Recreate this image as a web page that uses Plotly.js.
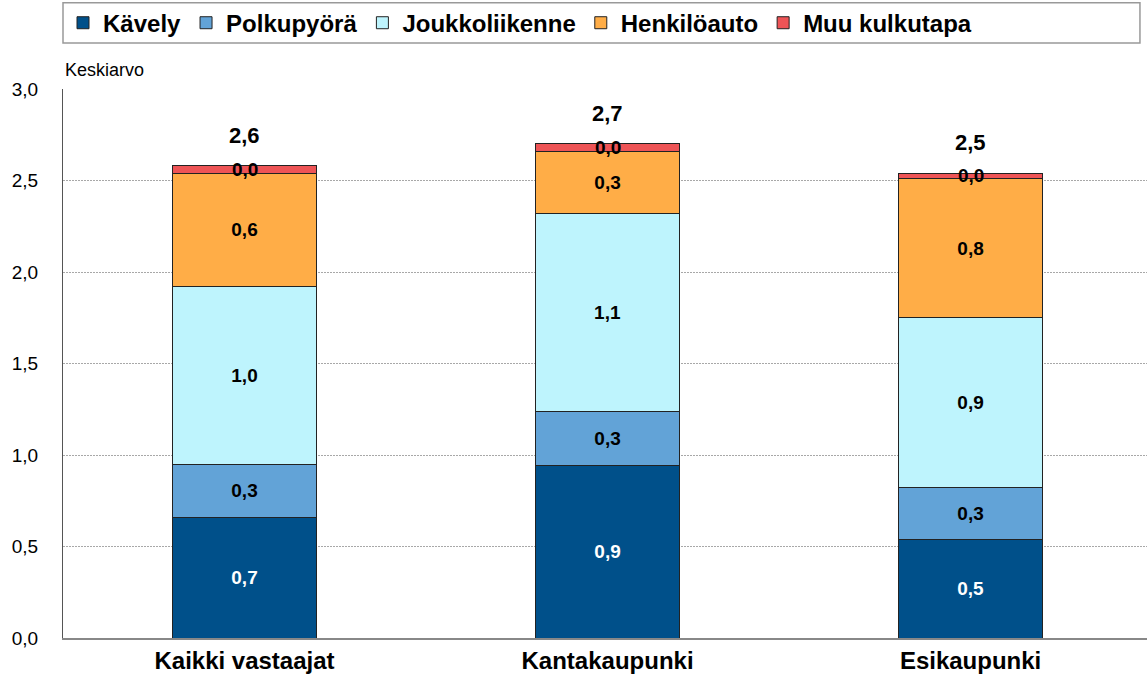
<!DOCTYPE html>
<html>
<head>
<meta charset="utf-8">
<script src="https://cdn.plot.ly/plotly-3.0.1.min.js"></script>
<style>html,body{margin:0;padding:0;background:#fff;}#chart{width:1147px;height:684px;}</style>
</head>
<body>
<div id="chart"></div>
<script>
const categories = ["Kaikki vastaajat", "Kantakaupunki", "Esikaupunki"];
const seriesNames = ["Kävely", "Polkupyörä", "Joukkoliikenne", "Henkilöauto", "Muu kulkutapa"];
const kavely = [0.66, 0.94, 0.54];
const polkupyora = [0.29, 0.30, 0.28];
const joukkoliikenne = [0.97, 1.08, 0.93];
const henkiloauto = [0.62, 0.34, 0.76];
const muu = [0.04, 0.04, 0.03];
const yTicks = [0, 0.5, 1, 1.5, 2, 2.5, 3];

const colors = ["#00508A", "#62A3D7", "#BEF4FD", "#FFAD47", "#EE5456"];
const textColors = ["#ffffff", "#000000", "#000000", "#000000", "#000000"];
const series = [kavely, polkupyora, joukkoliikenne, henkiloauto, muu];
const fmt = v => v.toFixed(1).replace('.', ',');
const FONT = "Liberation Sans, Arial, sans-serif";

const traces = series.map((vals, i) => ({
  type: 'bar',
  name: seriesNames[i],
  x: categories,
  y: vals,
  text: i < 4 ? vals.map(fmt) : vals.map(() => ''),
  textposition: i < 4 ? 'inside' : 'none',
  insidetextanchor: 'middle',
  textangle: 0,
  constraintext: 'none',
  textfont: {family: FONT, size: 19, color: textColors[i], weight: 'bold'},
  marker: {color: colors[i], line: {color: '#222222', width: 1}},
  hoverinfo: 'skip'
}));

const annotations = [];
annotations.push({
  xref: 'paper', yref: 'paper', x: 0, y: 1.034, xanchor: 'left', yanchor: 'middle',
  text: 'Keskiarvo', showarrow: false, font: {family: FONT, size: 18, color: '#000'}
});
categories.forEach((c, j) => {
  const below = kavely[j] + polkupyora[j] + joukkoliikenne[j] + henkiloauto[j];
  const total = below + muu[j];
  annotations.push({
    x: c, y: below + muu[j] / 2, xref: 'x', yref: 'y', text: fmt(muu[j]), showarrow: false,
    xanchor: 'center', yanchor: 'middle',
    font: {family: FONT, size: 19, color: '#000', weight: 'bold'}
  });
  annotations.push({
    x: c, y: total, xref: 'x', yref: 'y', text: fmt(total), showarrow: false,
    xanchor: 'center', yanchor: 'bottom', yshift: 16,
    font: {family: FONT, size: 22, color: '#000', weight: 'bold'}
  });
});

const layout = {
  width: 1147, height: 684,
  margin: {l: 63, r: 0, t: 89, b: 46, pad: 0},
  paper_bgcolor: '#ffffff', plot_bgcolor: '#ffffff',
  separators: ', ',
  barmode: 'stack',
  bargap: 0.603,
  showlegend: true,
  legend: {
    orientation: 'h', x: 0.0, xanchor: 'left', y: 1.12, yanchor: 'middle',
    font: {family: FONT, size: 24, color: '#000', weight: 'bold'},
    bgcolor: 'rgba(0,0,0,0)', borderwidth: 0, traceorder: 'normal', itemclick: false
  },
  xaxis: {
    range: [-0.5, 2.486], showgrid: false, zeroline: false,
    showline: true, linecolor: '#888888', linewidth: 2,
    ticks: '', tickfont: {family: FONT, size: 24, color: '#000', weight: 'bold'},
    fixedrange: true
  },
  yaxis: {
    range: [0, 3], tickvals: yTicks, tickformat: '.1f',
    showgrid: true, gridcolor: '#a8a8a8', griddash: '2px,1px', gridwidth: 1,
    zeroline: false, showline: true, linecolor: '#555555', linewidth: 1,
    ticks: '', ticklabelstandoff: 20,
    tickfont: {family: FONT, size: 19, color: '#000'}, fixedrange: true
  },
  shapes: [{
    type: 'rect', xref: 'paper', yref: 'paper', x0: 0, x1: 0.9935, y0: 1.0838, y1: 1.157,
    line: {color: '#999999', width: 1.5}, fillcolor: 'rgba(0,0,0,0)', layer: 'below'
  }],
  annotations: annotations
};

Plotly.newPlot('chart', traces, layout, {displayModeBar: false, staticPlot: true});
</script>
</body>
</html>
